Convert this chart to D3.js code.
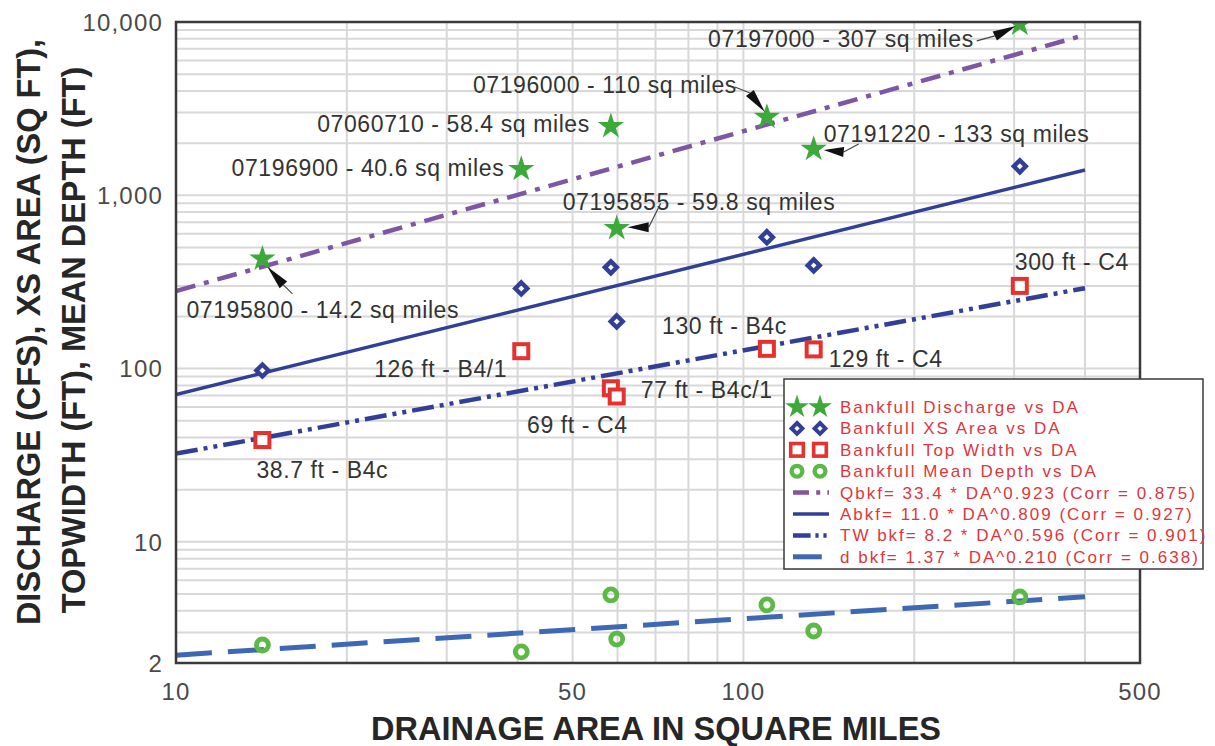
<!DOCTYPE html>
<html>
<head>
<meta charset="utf-8">
<script src="https://cdn.jsdelivr.net/npm/d3@7"></script>
<style>
  body { margin: 0; background: #fff; }
  svg { display: block; font-family: "Liberation Sans", Arial, sans-serif; }
</style>
</head>
<body>
<div id="chart"></div>
<script>
// gauge stations
var stations = ["07195800", "07196900", "07060710", "07195855", "07196000", "07191220", "07197000"];
var drainageArea = [14.2, 40.6, 58.4, 59.8, 110, 133, 307];
var discharge = [430, 1415, 2500, 645, 2830, 1850, 9750];
var xsArea = [97.5, 290, 384, 187, 573, 394, 1470];
var topWidth = [38.7, 126, 77, 69, 130, 129, 300];
var streamType = ["B4c", "B4/1", "B4c/1", "C4", "B4c", "C4", "C4"];
var meanDepth = [2.54, 2.32, 4.94, 2.75, 4.33, 3.06, 4.81];

// regression lines, end points
var fitX = [10, 400];
var qbkfFit = [280, 8420];
var abkfFit = [70.9, 1400];
var twFit = [32.3, 291];
var depthFit = [2.22, 4.82];

var xTicks = [10, 50, 100, 500];
var yTicks = [2, 10, 100, 1000, 10000];

var legendNames = ["Bankfull Discharge vs DA", "Bankfull XS Area vs DA", "Bankfull Top Width vs DA", "Bankfull Mean Depth vs DA",
  "Qbkf= 33.4 * DA^0.923 (Corr = 0.875)", "Abkf= 11.0 * DA^0.809 (Corr = 0.927)",
  "TW bkf= 8.2 * DA^0.596 (Corr = 0.901)", "d bkf= 1.37 * DA^0.210 (Corr = 0.638)"];

var W = 1215, H = 746;
var margin = {top: 22, right: 75, bottom: 83, left: 176};
var width = W - margin.left - margin.right;
var height = H - margin.top - margin.bottom;

var green = "#3da93a", navy = "#313f98", red = "#e5312f", lgreen = "#5db946",
    purple = "#7d56a4", blue = "#3e68b3";

var svg = d3.select("#chart").append("svg")
  .attr("width", W).attr("height", H);

var x = d3.scaleLog().domain([10, 500]).range([margin.left, margin.left + width]);
var y = d3.scaleLog().domain([2, 10000]).range([margin.top + height, margin.top]);

svg.append("clipPath").attr("id", "plotclip")
  .append("rect").attr("x", margin.left).attr("y", margin.top)
  .attr("width", width).attr("height", height);

// grid
var xGrid = [];
[10, 100].forEach(function(d) { for (var k = 1; k < 10; k++) { if (d * k > 10 && d * k < 500) xGrid.push(d * k); } });
var yGrid = [];
[1, 10, 100, 1000].forEach(function(d) { for (var k = 1; k < 10; k++) { if (d * k > 2 && d * k < 10000) yGrid.push(d * k); } });

var grid = svg.append("g").attr("stroke", "#d8d8d8").attr("stroke-width", 2);
grid.selectAll(".gx").data(xGrid).enter().append("line")
  .attr("x1", function(d) { return x(d); }).attr("x2", function(d) { return x(d); })
  .attr("y1", margin.top).attr("y2", margin.top + height);
grid.selectAll(".gy").data(yGrid).enter().append("line")
  .attr("x1", margin.left).attr("x2", margin.left + width)
  .attr("y1", function(d) { return y(d); }).attr("y2", function(d) { return y(d); });

// fit lines
var plot = svg.append("g").attr("clip-path", "url(#plotclip)");
var line = d3.line().x(function(d) { return x(d[0]); }).y(function(d) { return y(d[1]); });
var fits = [
  {vals: qbkfFit, color: purple, w: 4.5, dash: "20,9,5,9"},
  {vals: abkfFit, color: navy, w: 3.5, dash: null},
  {vals: twFit, color: navy, w: 4.5, dash: "22,6,4,6,4,6"},
  {vals: depthFit, color: blue, w: 5, dash: "36,16"}
];
fits.forEach(function(f) {
  plot.append("path")
    .datum(fitX.map(function(d, i) { return [d, f.vals[i]]; }))
    .attr("d", line)
    .attr("fill", "none")
    .attr("stroke", f.color)
    .attr("stroke-width", f.w)
    .attr("stroke-dasharray", f.dash);
});

// markers
function drawStar(g, s) { g.append("path").attr("d", d3.symbol(d3.symbolStar, 215 * s * s)()).attr("fill", green); }
function drawDiamond(g, s) { var r = 6 * s; g.append("path").attr("d", "M0," + (-r) + "L" + r + ",0L0," + r + "L" + (-r) + ",0Z").attr("fill", "#fff").attr("stroke", navy).attr("stroke-width", 4.4 * s); }
function drawSquare(g, s) { var r = 7 * s; g.append("rect").attr("x", -r).attr("y", -r).attr("width", 2 * r).attr("height", 2 * r).attr("fill", "#fff").attr("stroke", red).attr("stroke-width", 4 * s); }
function drawCircle(g, s) { g.append("circle").attr("r", 6 * s).attr("fill", "none").attr("stroke", lgreen).attr("stroke-width", 4.8 * s); }

function markers(vals, fn) {
  vals.forEach(function(v, i) {
    var g = plot.append("g").attr("transform", "translate(" + x(drainageArea[i]) + "," + y(v) + ")");
    fn(g, 1);
  });
}
markers(meanDepth, drawCircle);
markers(topWidth, drawSquare);
markers(xsArea, drawDiamond);
markers(discharge, drawStar);

// axes frame
svg.append("rect")
  .attr("x", margin.left).attr("y", margin.top)
  .attr("width", width).attr("height", height)
  .attr("fill", "none").attr("stroke", "#3a3a3a").attr("stroke-width", 2.5);

var tickFmt = d3.format(",");
svg.selectAll(".ytick").data(yTicks).enter().append("text")
  .attr("x", 163).attr("y", function(d) { return y(d); })
  .attr("dy", "0.36em")
  .attr("text-anchor", "end")
  .attr("font-size", 24).attr("letter-spacing", 1.2)
  .attr("fill", "#4a4a4a")
  .text(function(d) { return tickFmt(d); });

svg.selectAll(".xtick").data(xTicks).enter().append("text")
  .attr("x", function(d) { return x(d); }).attr("y", 700)
  .attr("text-anchor", "middle")
  .attr("font-size", 24).attr("letter-spacing", 1.2)
  .attr("fill", "#4a4a4a")
  .text(function(d) { return tickFmt(d); });

svg.append("text")
  .attr("x", margin.left + width / 2 - 2).attr("y", 740)
  .attr("text-anchor", "middle")
  .attr("font-size", 32.5).attr("font-weight", "bold").attr("fill", "#262626")
  .text("DRAINAGE AREA IN SQUARE MILES");

svg.append("text")
  .attr("transform", "translate(40,332) rotate(-90)")
  .attr("text-anchor", "middle")
  .attr("font-size", 32.5).attr("font-weight", "bold").attr("fill", "#262626")
  .text("DISCHARGE (CFS), XS AREA (SQ FT),");
svg.append("text")
  .attr("transform", "translate(85,340) rotate(-90)")
  .attr("text-anchor", "middle")
  .attr("font-size", 32.5).attr("font-weight", "bold").attr("fill", "#262626")
  .text("TOPWIDTH (FT), MEAN DEPTH (FT)");

// station labels: anchor, dx, dy, arrow [leader start, head base, tip] relative to star
var stationLayout = [
  {anchor: "start", dx: -76, dy: 59, arrow: [[30, 35], [21, 26], [5, 8]]},
  {anchor: "end", dx: -17, dy: 7, arrow: null},
  {anchor: "end", dx: -21, dy: 6, arrow: null},
  {anchor: "start", dx: -54, dy: -18, arrow: [[44, -25], [32, -1], [11, -1]]},
  {anchor: "end", dx: -30, dy: -24, arrow: [[-32, -30], [-17, -24], [-2, -5]]},
  {anchor: "start", dx: 10, dy: -7, arrow: [[45, -5], [30, 3], [10, 1]]},
  {anchor: "end", dx: -46, dy: 23, arrow: [[-43, 17], [-25, 12], [-4, 2]]}
];

var ann = svg.append("g").attr("font-size", 23).attr("letter-spacing", 0.6).attr("fill", "#333");
stations.forEach(function(s, i) {
  var px = x(drainageArea[i]), py = y(discharge[i]);
  var L = stationLayout[i];
  ann.append("text")
    .attr("x", px + L.dx).attr("y", py + L.dy)
    .attr("text-anchor", L.anchor)
    .text(s + " - " + drainageArea[i] + " sq miles");
  if (L.arrow) {
    var a = L.arrow;
    var s0 = [px + a[0][0], py + a[0][1]], b = [px + a[1][0], py + a[1][1]], t = [px + a[2][0], py + a[2][1]];
    ann.append("path")
      .attr("d", "M" + s0 + "L" + b)
      .attr("stroke", "#444").attr("stroke-width", 1.2).attr("fill", "none");
    var vx = t[0] - b[0], vy = t[1] - b[1], len = Math.sqrt(vx * vx + vy * vy);
    var nx = -vy / len * 5, ny = vx / len * 5;
    ann.append("path")
      .attr("d", "M" + t + "L" + [b[0] + nx, b[1] + ny] + "L" + [b[0] - nx, b[1] - ny] + "Z")
      .attr("fill", "#111");
  }
});

// top width labels
var widthLayout = [
  {anchor: "start", dx: -6, dy: 38},
  {anchor: "end", dx: -14, dy: 26},
  {anchor: "start", dx: 30, dy: 10},
  {anchor: "end", dx: 11, dy: 36},
  {anchor: "end", dx: 20, dy: -15},
  {anchor: "start", dx: 15, dy: 18},
  {anchor: "start", dx: -5, dy: -16}
];
topWidth.forEach(function(v, i) {
  var L = widthLayout[i];
  ann.append("text")
    .attr("x", x(drainageArea[i]) + L.dx).attr("y", y(v) + L.dy)
    .attr("text-anchor", L.anchor)
    .text(v + " ft - " + streamType[i]);
});

// legend
var lg = svg.append("g").attr("transform", "translate(784,379)");
lg.append("rect").attr("width", 419).attr("height", 190)
  .attr("fill", "#fff").attr("stroke", "#3a3a3a").attr("stroke-width", 1.5);
var rowY = d3.range(legendNames.length).map(function(i) { return 28 + i * 21.4; });
lg.selectAll(".lt").data(legendNames).enter().append("text")
  .attr("x", 56).attr("y", function(d, i) { return rowY[i]; })
  .attr("dy", "0.35em")
  .attr("font-size", 17).attr("letter-spacing", 2)
  .attr("fill", "#e0363b")
  .text(function(d) { return d; });
var symFns = [drawStar, drawDiamond, drawSquare, drawCircle];
symFns.forEach(function(fn, i) {
  [13, 36].forEach(function(sx) {
    var g = lg.append("g").attr("transform", "translate(" + sx + "," + rowY[i] + ")");
    fn(g, 0.9);
  });
});
fits.forEach(function(f, i) {
  lg.append("line")
    .attr("x1", 9).attr("x2", 45)
    .attr("y1", rowY[i + 4]).attr("y2", rowY[i + 4])
    .attr("stroke", f.color).attr("stroke-width", f.w)
    .attr("stroke-dasharray", f.dash ? f.dash.split(",").map(function(v) { return v * 0.8; }).join(",") : null);
});
</script>
</body>
</html>
